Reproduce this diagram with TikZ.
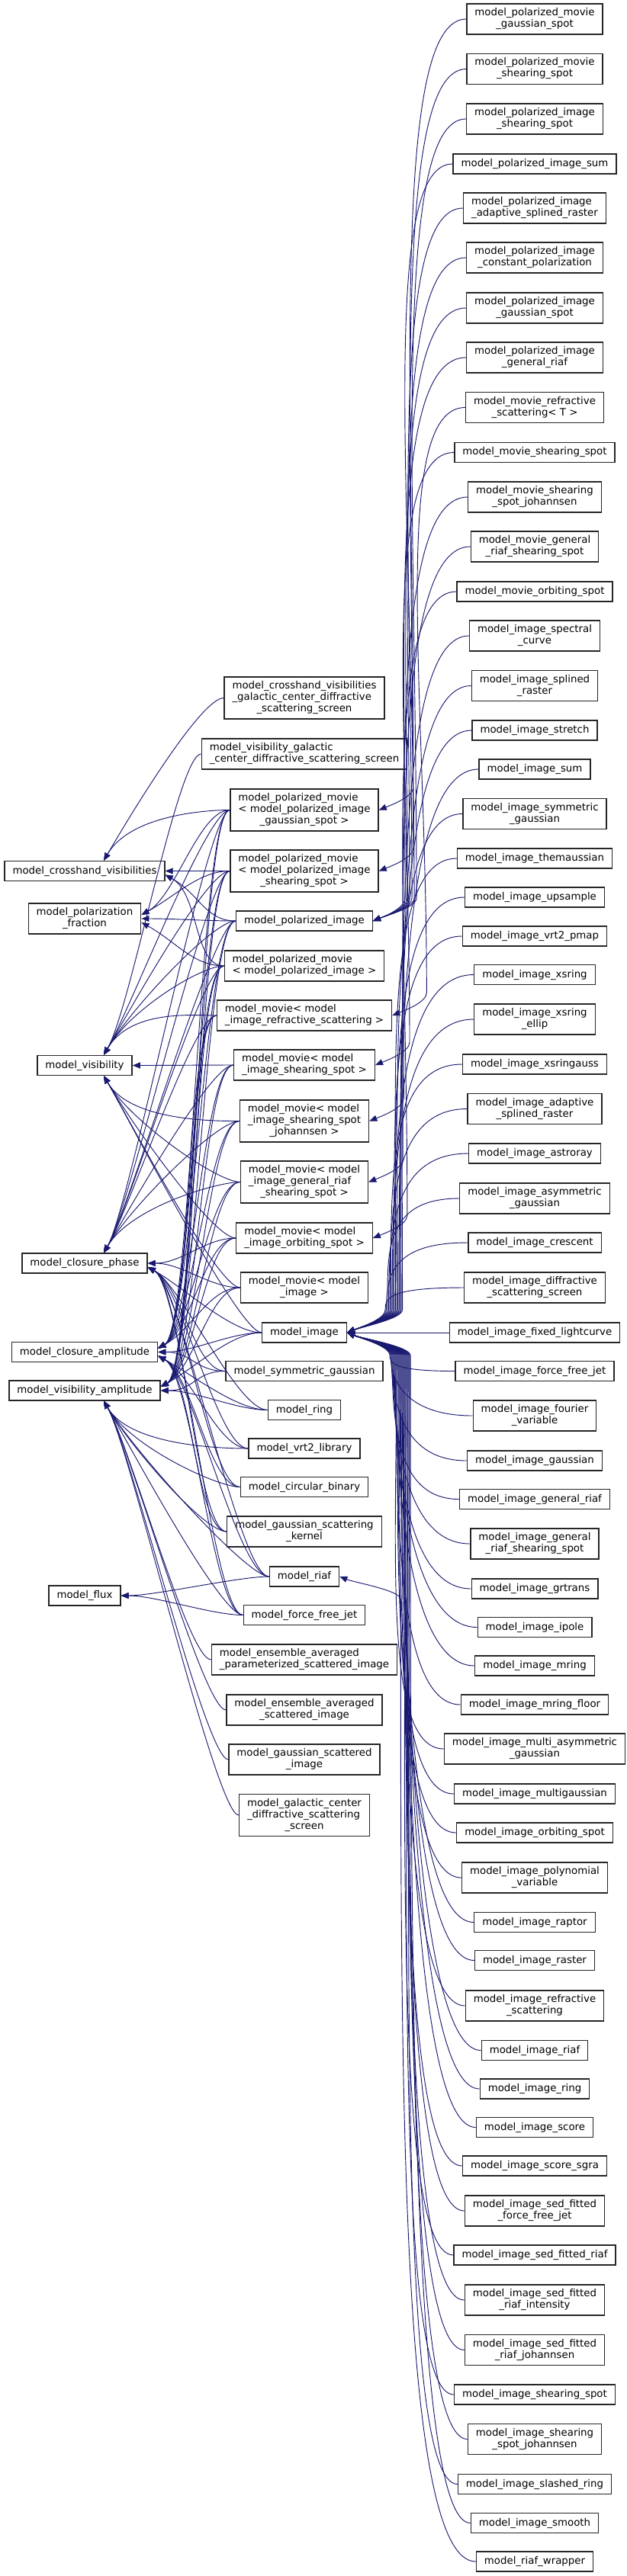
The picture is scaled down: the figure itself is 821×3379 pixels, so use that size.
\documentclass[tikz,border=0pt]{standalone}
\usepackage{fontspec}
\setmainfont{DejaVu Sans}
\usetikzlibrary{arrows.meta, calc}
\definecolor{edgeblue}{HTML}{191970}
\newcommand{\twol}[2]{\begin{tabular}{@{}l@{}}#1\\\multicolumn{1}{@{}c@{}}{#2}\end{tabular}}
\newcommand{\threel}[3]{\begin{tabular}{@{}l@{}}#1\\#2\\\multicolumn{1}{@{}c@{}}{#3}\end{tabular}}

\begin{document}
\begin{tikzpicture}[
        x=0.75pt, y=-0.75pt,
        cls/.style={draw=black!85, fill=white, line width=1pt, inner xsep=7.9pt, inner ysep=3.75pt, minimum height=19.5pt, font=\fontsize{10}{11.25}\selectfont},
        inherit/.style={draw=edgeblue, line width=0.7pt, -{Triangle[length=7.5pt, width=6pt]}}
    ]
        \useasboundingbox (0,0) rectangle (821,3379);

        % --- BASE CLASSES ---
        \node[cls] (crossvis) at (111,1142.5) {model\_crosshand\_visibilities};
        \node[cls] (polfrac) at (111,1205) {\twol{model\_polarization}{\_fraction}};
        \node[cls] (vis) at (111,1397.5) {model\_visibility};
        \node[cls] (cphase) at (111,1657) {model\_closure\_phase};
        \node[cls] (camp) at (111,1773.5) {model\_closure\_amplitude};
        \node[cls] (visamp) at (111,1824) {model\_visibility\_amplitude};
        \node[cls] (flux) at (111,2093) {model\_flux};

        % --- MIDDLE CLASSES ---
        \node[cls] (crossgc) at (399,915.5) {\threel{model\_crosshand\_visibilities}{\_galactic\_center\_diffractive}{\_scattering\_screen}};
        \node[cls] (visgc) at (399,989) {\twol{model\_visibility\_galactic}{\_center\_diffractive\_scattering\_screen}};
        \node[cls] (pmovgs) at (399,1062.5) {\threel{model\_polarized\_movie}{< model\_polarized\_image}{\_gaussian\_spot >}};
        \node[cls] (pmovss) at (399,1142.5) {\threel{model\_polarized\_movie}{< model\_polarized\_image}{\_shearing\_spot >}};
        \node[cls] (polimg) at (399,1208) {model\_polarized\_image};
        \node[cls] (pmovimg) at (399,1267) {\twol{model\_polarized\_movie}{< model\_polarized\_image >}};
        \node[cls] (movrefr) at (399,1332) {\twol{model\_movie< model}{\_image\_refractive\_scattering >}};
        \node[cls] (movss) at (399,1397) {\twol{model\_movie< model}{\_image\_shearing\_spot >}};
        \node[cls] (movssj) at (399,1470.5) {\threel{model\_movie< model}{\_image\_shearing\_spot}{\_johannsen >}};
        \node[cls] (movgrss) at (399,1550.5) {\threel{model\_movie< model}{\_image\_general\_riaf}{\_shearing\_spot >}};
        \node[cls] (movorb) at (399,1624) {\twol{model\_movie< model}{\_image\_orbiting\_spot >}};
        \node[cls] (movimg) at (399,1689) {\twol{model\_movie< model}{\_image >}};
        \node[cls] (image) at (399,1748) {model\_image};
        \node[cls] (symgauss) at (399,1798.5) {model\_symmetric\_gaussian};
        \node[cls] (ring) at (399,1849.5) {model\_ring};
        \node[cls] (vrt) at (399,1900) {model\_vrt2\_library};
        \node[cls] (cbin) at (399,1950.5) {model\_circular\_binary};
        \node[cls] (gskern) at (399,2009) {\twol{model\_gaussian\_scattering}{\_kernel}};
        \node[cls] (riaf) at (399,2068) {model\_riaf};
        \node[cls] (ffjet) at (399,2118.5) {model\_force\_free\_jet};
        \node[cls] (ensparam) at (399,2177) {\twol{model\_ensemble\_averaged}{\_parameterized\_scattered\_image}};
        \node[cls] (ensscat) at (399,2243) {\twol{model\_ensemble\_averaged}{\_scattered\_image}};
        \node[cls] (gscat) at (399,2308) {\twol{model\_gaussian\_scattered}{\_image}};
        \node[cls] (gcdss) at (399,2381) {\threel{model\_galactic\_center}{\_diffractive\_scattering}{\_screen}};

        % --- DERIVED CLASSES ---
        \node[cls] (pmgs) at (701,25) {\twol{model\_polarized\_movie}{\_gaussian\_spot}};
        \node[cls] (pmss) at (701,90.5) {\twol{model\_polarized\_movie}{\_shearing\_spot}};
        \node[cls] (pimss) at (701,156) {\twol{model\_polarized\_image}{\_shearing\_spot}};
        \node[cls] (pimsum) at (701,215) {model\_polarized\_image\_sum};
        \node[cls] (pimasr) at (701,273) {\twol{model\_polarized\_image}{\_adaptive\_splined\_raster}};
        \node[cls] (pimcp) at (701,338) {\twol{model\_polarized\_image}{\_constant\_polarization}};
        \node[cls] (pimgs) at (701,404) {\twol{model\_polarized\_image}{\_gaussian\_spot}};
        \node[cls] (pimgr) at (701,469) {\twol{model\_polarized\_image}{\_general\_riaf}};
        \node[cls] (mvrefr) at (701,534.5) {\twol{model\_movie\_refractive}{\_scattering< T >}};
        \node[cls] (mvss) at (701,593.5) {model\_movie\_shearing\_spot};
        \node[cls] (mvssj) at (701,652) {\twol{model\_movie\_shearing}{\_spot\_johannsen}};
        \node[cls] (mvgrss) at (701,717) {\twol{model\_movie\_general}{\_riaf\_shearing\_spot}};
        \node[cls] (mvorb) at (701,776) {model\_movie\_orbiting\_spot};
        \node[cls] (imspec) at (701,834) {\twol{model\_image\_spectral}{\_curve}};
        \node[cls] (imspl) at (701,899.5) {\twol{model\_image\_splined}{\_raster}};
        \node[cls] (imstr) at (701,958) {model\_image\_stretch};
        \node[cls] (imsum) at (701,1009) {model\_image\_sum};
        \node[cls] (imsymg) at (701,1067.5) {\twol{model\_image\_symmetric}{\_gaussian}};
        \node[cls] (imthem) at (701,1126) {model\_image\_themaussian};
        \node[cls] (imups) at (701,1177) {model\_image\_upsample};
        \node[cls] (imvrt) at (701,1228) {model\_image\_vrt2\_pmap};
        \node[cls] (imxs) at (701,1278.5) {model\_image\_xsring};
        \node[cls] (imxse) at (701,1337) {\twol{model\_image\_xsring}{\_ellip}};
        \node[cls] (imxsg) at (701,1396) {model\_image\_xsringauss};
        \node[cls] (imasr) at (701,1454.5) {\twol{model\_image\_adaptive}{\_splined\_raster}};
        \node[cls] (imastro) at (701,1513) {model\_image\_astroray};
        \node[cls] (imasym) at (701,1572) {\twol{model\_image\_asymmetric}{\_gaussian}};
        \node[cls] (imcres) at (701,1630) {model\_image\_crescent};
        \node[cls] (imdiff) at (701,1689) {\twol{model\_image\_diffractive}{\_scattering\_screen}};
        \node[cls] (imfix) at (701,1748) {model\_image\_fixed\_lightcurve};
        \node[cls] (imffj) at (701,1798.5) {model\_image\_force\_free\_jet};
        \node[cls] (imfour) at (701,1857) {\twol{model\_image\_fourier}{\_variable}};
        \node[cls] (imgau) at (701,1916) {model\_image\_gaussian};
        \node[cls] (imgr) at (701,1966.5) {model\_image\_general\_riaf};
        \node[cls] (imgrss) at (701,2025) {\twol{model\_image\_general}{\_riaf\_shearing\_spot}};
        \node[cls] (imgrt) at (701,2084) {model\_image\_grtrans};
        \node[cls] (imipo) at (701,2134.5) {model\_image\_ipole};
        \node[cls] (immr) at (701,2185) {model\_image\_mring};
        \node[cls] (immrf) at (701,2236) {model\_image\_mring\_floor};
        \node[cls] (immag) at (701,2294) {\twol{model\_image\_multi\_asymmetric}{\_gaussian}};
        \node[cls] (immg) at (701,2353) {model\_image\_multigaussian};
        \node[cls] (imorb) at (701,2404) {model\_image\_orbiting\_spot};
        \node[cls] (impoly) at (701,2463) {\twol{model\_image\_polynomial}{\_variable}};
        \node[cls] (imrap) at (701,2521.5) {model\_image\_raptor};
        \node[cls] (imras) at (701,2571.5) {model\_image\_raster};
        \node[cls] (imrefr) at (701,2631) {\twol{model\_image\_refractive}{\_scattering}};
        \node[cls] (imriaf) at (701,2689.5) {model\_image\_riaf};
        \node[cls] (imring) at (701,2740) {model\_image\_ring};
        \node[cls] (imsc) at (701,2790.5) {model\_image\_score};
        \node[cls] (imscs) at (701,2841) {model\_image\_score\_sgra};
        \node[cls] (imsffj) at (701,2900) {\twol{model\_image\_sed\_fitted}{\_force\_free\_jet}};
        \node[cls] (imsfr) at (701,2958) {model\_image\_sed\_fitted\_riaf};
        \node[cls] (imsfri) at (701,3017) {\twol{model\_image\_sed\_fitted}{\_riaf\_intensity}};
        \node[cls] (imsfrj) at (701,3082.5) {\twol{model\_image\_sed\_fitted}{\_riaf\_johannsen}};
        \node[cls] (imss) at (701,3141) {model\_image\_shearing\_spot};
        \node[cls] (imssj) at (701,3199.5) {\twol{model\_image\_shearing}{\_spot\_johannsen}};
        \node[cls] (imslr) at (701,3258.5) {model\_image\_slashed\_ring};
        \node[cls] (imsm) at (701,3309.5) {model\_image\_smooth};
        \node[cls] (riafw) at (701,3360) {model\_riaf\_wrapper};

        % --- DERIVED TO MIDDLE ---
        \foreach \c/\p/\d/\s in {pmgs/pmovgs/45/-1, pmss/pmovss/45/-1, pimss/polimg/57/-1, pimsum/polimg/54/-1,
                pimasr/polimg/51/-1, pimcp/polimg/48/-1, pimgs/polimg/45/-1, pimgr/polimg/42/-1,
                mvrefr/movrefr/45/-1, mvss/movss/45/-1, mvssj/movssj/45/-1, mvgrss/movgrss/45/-1,
                mvorb/movorb/45/-1, riafw/riaf/80/1}
        {
            \coordinate (v) at ($(\p.east)+(\d,{30*\s})$);
            \draw[inherit] (\c.west) .. controls +(-100,0) and ($(v)!0.5!(v|-\c.west)$) .. (v)
                .. controls +(0,{-12*\s}) and +(20,{8*\s}) .. (\p.east);
        }

        % model_image, children above
        \foreach \c [count=\i] in {imspec, imspl, imstr, imsum, imsymg, imthem, imups, imvrt,
                imxs, imxse, imxsg, imasr, imastro, imasym, imcres, imdiff}
        {
            \coordinate (v) at ($(image.east)+({74-1.5*\i},-30)$);
            \draw[inherit] (\c.west) .. controls +(-100,0) and ($(v)!0.5!(v|-\c.west)$) .. (v)
                .. controls +(0,12) and +(20,-8) .. (image.east);
        }
        \draw[inherit] (imfix) -- (image);
        % model_image, children below
        \foreach \c [count=\i] in {imffj, imfour, imgau, imgr, imgrss, imgrt, imipo, immr, immrf,
                immag, immg, imorb, impoly, imrap, imras, imrefr, imriaf, imring, imsc, imscs,
                imsffj, imsfr, imsfri, imsfrj, imss, imssj, imslr, imsm}
        {
            \coordinate (v) at ($(image.east)+({55+\i},30)$);
            \draw[inherit] (\c.west) .. controls +(-80,0) and ($(v)!0.5!(v|-\c.west)$) .. (v)
                .. controls +(0,-12) and +(20,8) .. (image.east);
        }

        % --- MIDDLE TO BASE ---
        % model_crosshand_visibilities
        \foreach \c in {crossgc, pmovgs}
            \draw[inherit] (\c.west) .. controls +(-30,0) and +(35,-60) .. ($(crossvis.north)+(25,0)$);
        \foreach \c/\s in {pmovss/0, polimg/1, pmovimg/1}
            \draw[inherit] (\c.west) .. controls +(-40,0) and +(45,{25*\s}) .. ($(crossvis.east)+(0,{5*\s})$);
        % model_polarization_fraction
        \foreach \c/\s in {pmovgs/-1, pmovss/-1, polimg/0, pmovimg/1}
            \draw[inherit] (\c.west) .. controls +(-40,0) and +(45,{25*\s}) .. ($(polfrac.east)+(0,{5*\s})$);
        % model_visibility
        \foreach \c in {visgc, pmovgs, pmovss, polimg, pmovimg, movrefr}
            \draw[inherit] (\c.west) .. controls +(-30,0) and +(35,-60) .. ($(vis.north)+(25,0)$);
        \draw[inherit] (movss.west) .. controls +(-40,0) and +(45,0) .. (vis.east);
        \foreach \c in {movssj, movgrss, movorb, movimg, image}
            \draw[inherit] (\c.west) .. controls +(-30,0) and +(35,60) .. ($(vis.south)+(25,0)$);
        % model_closure_phase
        \foreach \c in {pmovgs, pmovss, polimg, pmovimg, movrefr, movss, movssj, movgrss}
            \draw[inherit] (\c.west) .. controls +(-30,0) and +(35,-60) .. ($(cphase.north)+(25,0)$);
        \foreach \c/\s in {movorb/0, movimg/0, image/1, symgauss/1, ring/1, vrt/1, cbin/1, gskern/1,
                riaf/1, ffjet/1}
            \draw[inherit] (\c.west) .. controls +(-40,0) and +(45,{25*\s}) .. ($(cphase.east)+(0,{5*\s})$);
        % model_closure_amplitude
        \foreach \c/\s in {pmovgs/-1, pmovss/-1, polimg/-1, pmovimg/-1, movrefr/-1, movss/-1, movssj/-1,
                movgrss/-1, movorb/-1, movimg/-1, image/0, symgauss/0, ring/1, vrt/1, cbin/1, gskern/1,
                riaf/1, ffjet/1}
            \draw[inherit] (\c.west) .. controls +(-40,0) and +(45,{25*\s}) .. ($(camp.east)+(0,{5*\s})$);
        % model_visibility_amplitude
        \foreach \c/\s in {pmovgs/-1, pmovss/-1, polimg/-1, pmovimg/-1, movrefr/-1, movss/-1, movssj/-1,
                movgrss/-1, movorb/-1, movimg/-1, image/-1, symgauss/0, ring/0}
            \draw[inherit] (\c.west) .. controls +(-40,0) and +(45,{25*\s}) .. ($(visamp.east)+(0,{5*\s})$);
        \foreach \c in {vrt, cbin, gskern, riaf, ffjet, ensparam, ensscat, gscat, gcdss}
            \draw[inherit] (\c.west) .. controls +(-30,0) and +(35,60) .. ($(visamp.south)+(25,0)$);
        % model_flux
        \draw[inherit] (riaf.west) .. controls +(-40,0) and +(45,0) .. (flux.east);
        \draw[inherit] (ffjet.west) .. controls +(-40,0) and +(45,0) .. (flux.east);

    \end{tikzpicture}
\end{document}
